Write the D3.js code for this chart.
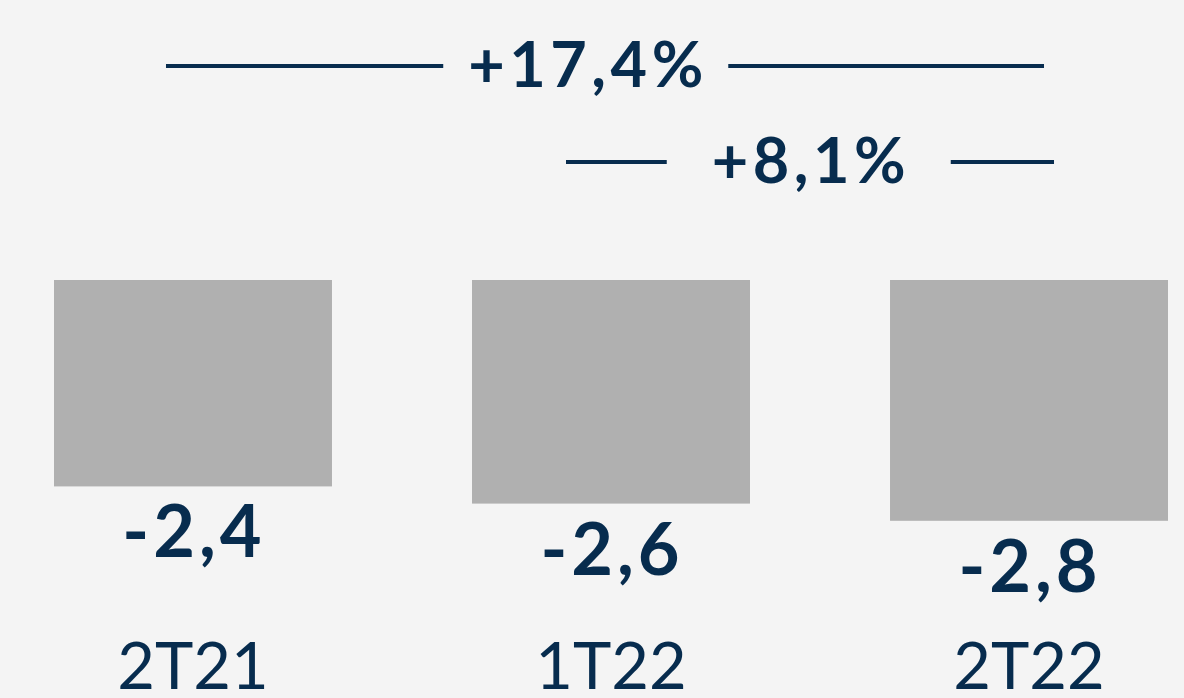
<!DOCTYPE html>
<html><head><meta charset="utf-8">
<script src="https://cdn.jsdelivr.net/npm/d3@7"></script>
<style>html,body{margin:0;padding:0;background:#f4f4f4;}svg{display:block;}</style>
</head><body>
<svg id="c" width="1184" height="698"></svg>
<script>
const categories = ["2T21", "1T22", "2T22"];
const values = [-2.4, -2.6, -2.8];
const valueLabels = ["-2,4", "-2,6", "-2,8"];
const changeLabels = ["+17,4%", "+8,1%"];
const changeFrom = [0, 1];
const changeTo = [2, 2];

const W = 1184, H = 698;
const navy = "#072c4e", barColor = "#b0b0b0";
const svg = d3.select("#c");
svg.append("rect").attr("width", W).attr("height", H).attr("fill", "#f4f4f4");

const x = d3.scaleBand().domain(categories).range([54, 1168]).paddingInner(0.335).paddingOuter(0);
const y = d3.scaleLinear().domain([0, -3]).range([280, 538]);
const font = "Lato, 'Open Sans', sans-serif";

svg.selectAll("rect.bar").data(values).enter().append("rect")
  .attr("class", "bar")
  .attr("x", (d, i) => x(categories[i]))
  .attr("width", x.bandwidth())
  .attr("y", y(0))
  .attr("height", d => y(d) - y(0))
  .attr("fill", barColor);

svg.selectAll("text.val").data(values).enter().append("text")
  .attr("class", "val")
  .attr("x", (d, i) => x(categories[i]) + x.bandwidth() / 2 + 1)
  .attr("y", d => y(d) + 71)
  .attr("text-anchor", "middle")
  .attr("font-family", font).attr("font-weight", 700).attr("font-size", 72)
  .attr("letter-spacing", 4)
  .attr("fill", navy)
  .text((d, i) => valueLabels[i]);

svg.selectAll("text.cat").data(categories).enter().append("text")
  .attr("class", "cat")
  .attr("x", d => x(d) + x.bandwidth() / 2)
  .attr("y", 689)
  .attr("text-anchor", "middle")
  .attr("font-family", font).attr("font-weight", 400).attr("font-size", 65)
  .attr("fill", navy)
  .text(d => d);

// change annotations: line extents relative to bar centres
const lineY = [66, 162];
const leftOff = [-27, -45];
const rightOff = [15, 25];
const textCx = [588, 811];
const textGap = [25, 45];
changeLabels.forEach((lab, i) => {
  const cx0 = x(categories[changeFrom[i]]) + x.bandwidth() / 2 + leftOff[i];
  const cx1 = x(categories[changeTo[i]]) + x.bandwidth() / 2 + rightOff[i];
  const t = svg.append("text")
    .attr("x", textCx[i]).attr("y", lineY[i] + 21)
    .attr("text-anchor", "middle")
    .attr("font-family", font).attr("font-weight", 700).attr("font-size", 63)
    .attr("letter-spacing", 4.5)
    .attr("fill", navy).text(lab);
  const bb = t.node().getBBox();
  const gap = textGap[i];
  svg.append("line").attr("x1", cx0).attr("x2", bb.x - gap)
    .attr("y1", lineY[i]).attr("y2", lineY[i]).attr("stroke", navy).attr("stroke-width", 4);
  svg.append("line").attr("x1", bb.x + bb.width - 4.5 + gap).attr("x2", cx1)
    .attr("y1", lineY[i]).attr("y2", lineY[i]).attr("stroke", navy).attr("stroke-width", 4);
});
</script>
</body></html>
